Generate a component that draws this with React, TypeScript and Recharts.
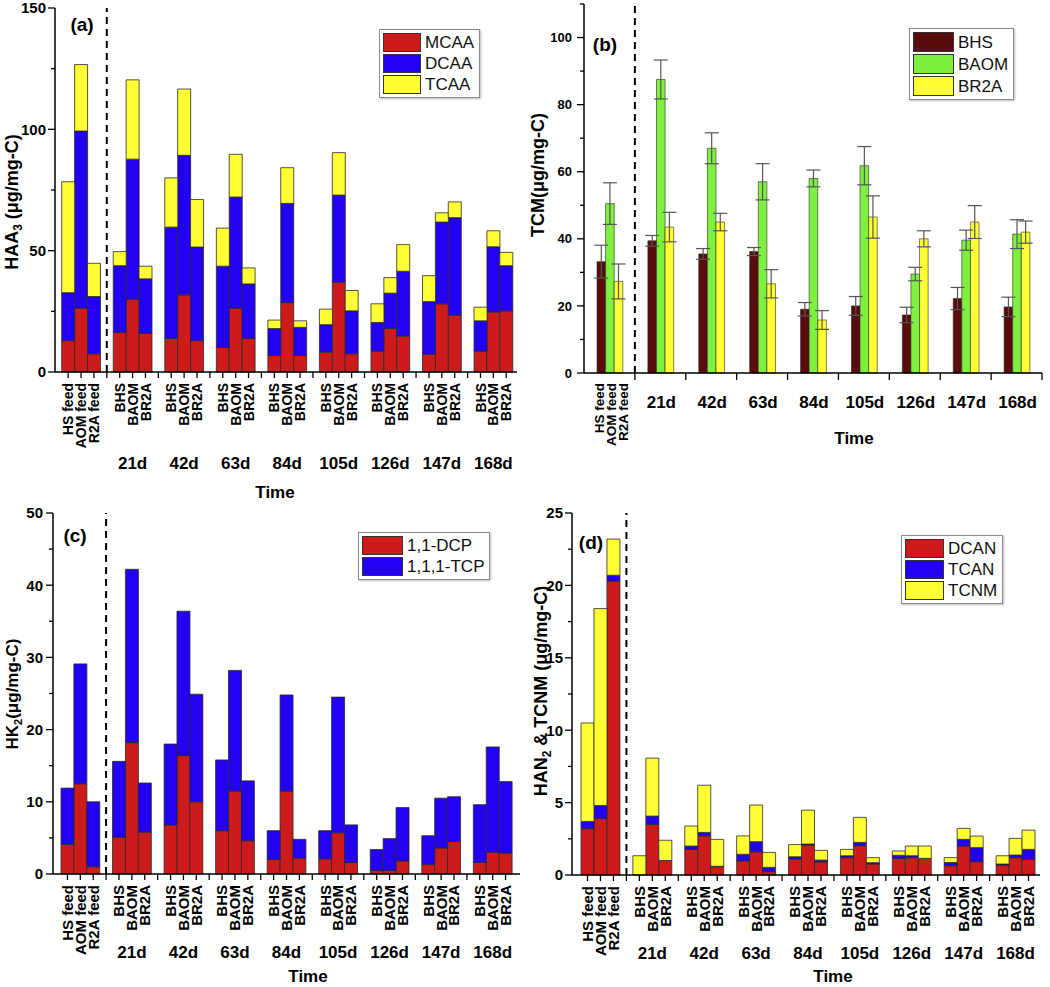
import React from 'react';
import { BarChart, Bar, XAxis, YAxis, ReferenceLine, ErrorBar } from 'recharts';

const FONT = '"Liberation Sans", Arial, Helvetica, sans-serif';

// ---------- shared categories ----------
const feedLabels = ['HS feed', 'AOM feed', 'R2A feed'];
const reactorLabels = ['BHS', 'BAOM', 'BR2A'];
const dayLabels = ['21d', '42d', '63d', '84d', '105d', '126d', '147d', '168d'];

// ---------- (a) HAA3 (feeds, then BHS/BAOM/BR2A for each day) ----------
const mcaa = [12.9, 26.3, 7.5, 16.3, 30.0, 15.9, 13.8, 31.8, 12.9, 10.1, 26.3, 13.8, 6.8, 28.6, 6.8, 8.2, 37.0, 7.5, 8.6, 17.9, 14.8, 7.3, 28.1, 23.4, 8.6, 24.7, 25.2];
const dcaa = [19.8, 73.0, 23.6, 27.5, 57.7, 22.5, 45.9, 57.5, 38.6, 33.5, 45.8, 22.5, 11.1, 40.9, 11.6, 11.3, 35.9, 17.7, 11.8, 14.6, 26.7, 21.7, 33.7, 40.2, 12.5, 26.9, 18.6];
const tcaa = [45.7, 27.4, 13.7, 5.8, 32.7, 5.2, 20.3, 27.3, 19.6, 15.7, 17.6, 6.6, 3.5, 14.7, 2.7, 6.4, 17.5, 8.4, 7.7, 6.4, 11.0, 10.7, 3.8, 6.5, 5.6, 6.6, 5.5];

// ---------- (b) TCM (feed group, then days) ----------
const tcmGroups = ['feed', ...dayLabels];
const tcmBHS = [33.2, 39.4, 35.5, 36.2, 19.0, 20.0, 17.3, 22.2, 19.7];
const tcmBHSErr = [4.9, 1.6, 1.6, 1.2, 2.0, 2.8, 2.3, 3.3, 2.9];
const tcmBAOM = [50.5, 87.5, 67.0, 57.0, 58.0, 61.8, 29.5, 39.6, 41.4];
const tcmBAOMErr = [6.2, 5.8, 4.6, 5.4, 2.5, 5.7, 2.0, 3.0, 4.3];
const tcmBR2A = [27.3, 43.5, 45.0, 26.6, 15.8, 46.5, 40.0, 45.0, 42.0];
const tcmBR2AErr = [5.2, 4.4, 2.6, 4.2, 2.8, 6.3, 2.4, 4.9, 3.3];

// ---------- (c) HK2 ----------
const dcp = [4.1, 12.5, 1.0, 5.1, 18.2, 5.8, 6.8, 16.4, 10.0, 6.0, 11.5, 4.6, 2.0, 11.5, 2.2, 2.1, 5.7, 1.6, 0.5, 0.5, 1.8, 1.3, 3.6, 4.5, 1.6, 3.0, 2.9];
const tcp = [7.8, 16.6, 9.0, 10.5, 24.0, 6.8, 11.2, 20.0, 14.9, 9.8, 16.7, 8.3, 4.0, 13.3, 2.6, 3.9, 18.8, 5.2, 2.9, 4.4, 7.4, 4.0, 6.9, 6.2, 8.0, 14.6, 9.9];

// ---------- (d) HAN2 & TCNM ----------
const dcan = [3.2, 3.9, 20.3, 0, 3.5, 1.0, 1.77, 2.7, 0.57, 0.97, 1.6, 0.23, 1.1, 2.07, 0.9, 1.2, 2.02, 0.76, 1.15, 1.2, 1.15, 0.64, 2.0, 0.92, 0.69, 1.2, 1.08];
const tcan = [0.5, 0.9, 0.4, 0, 0.57, 0, 0.23, 0.24, 0.03, 0.46, 0.7, 0.3, 0.16, 0.07, 0.13, 0.13, 0.23, 0.09, 0.21, 0.13, 0, 0.23, 0.46, 0.97, 0.07, 0.18, 0.69];
const tcnm = [6.8, 13.6, 2.5, 1.33, 4.0, 1.4, 1.38, 3.26, 1.86, 1.27, 2.53, 1.03, 0.84, 2.34, 0.67, 0.44, 1.73, 0.35, 0.3, 0.67, 0.85, 0.33, 0.76, 0.8, 0.57, 1.15, 1.33];

// ---------- tick values ----------
const haaTicks = [0, 25, 50, 75, 100, 125, 150];
const tcmTicks = [0, 10, 20, 30, 40, 50, 60, 70, 80, 90, 100, 110];
const hkTicks = [0, 5, 10, 15, 20, 25, 30, 35, 40, 45, 50];
const hanTicks = [0, 2.5, 5, 7.5, 10, 12.5, 15, 17.5, 20, 22.5, 25];

// ---------- colours ----------
const RED = '#CD1B1B';
const BLUE = '#2200F2';
const YELLOW = '#FFFF33';
const MAROON = '#5A0B0B';
const GREEN = '#7EF03E';
const EDGE = '#2a2a2a';

type Row = { key: string; label: string; group?: string; [k: string]: any };

function buildSlotRows(series: Record<string, number[]>): Row[] {
  const rows: Row[] = [];
  const names = Object.keys(series);
  feedLabels.forEach((lab, i) => {
    const r: Row = { key: `feed${i}`, label: lab };
    names.forEach((n) => (r[n] = series[n][i]));
    rows.push(r);
  });
  dayLabels.forEach((day, d) => {
    rows.push({ key: `gap${d}`, label: '' });
    reactorLabels.forEach((lab, j) => {
      const idx = 3 + d * 3 + j;
      const r: Row = { key: `${day}-${lab}`, label: lab, group: j === 1 ? day : undefined };
      names.forEach((n) => (r[n] = series[n][idx]));
      rows.push(r);
    });
  });
  return rows;
}

const haaRows = buildSlotRows({ mcaa, dcaa, tcaa });
const hkRows = buildSlotRows({ dcp, tcp });
const hanRows = buildSlotRows({ dcan, tcan, tcnm });
const tcmRows = tcmGroups.map((g, i) => ({
  key: g,
  bhs: tcmBHS[i],
  bhsErr: tcmBHSErr[i],
  baom: tcmBAOM[i],
  baomErr: tcmBAOMErr[i],
  br2a: tcmBR2A[i],
  br2aErr: tcmBR2AErr[i],
}));

const makeSlotTick = (rows: Row[], groupDy: number, fontSize: number) => (props: any) => {
  const { x, y, payload } = props;
  const row = rows.find((r) => r.key === payload.value);
  if (!row) return <g />;
  return (
    <g>
      {row.label ? (
        <text
          transform={`translate(${x},${y + 3}) rotate(-90)`}
          textAnchor="end"
          dy="0.36em"
          fontSize={fontSize}
          fontWeight="bold"
          fill="#000"
        >
          {row.label}
        </text>
      ) : null}
      {row.group ? (
        <text x={x} y={y + groupDy} textAnchor="middle" fontSize={17} fontWeight="bold" fill="#000">
          {row.group}
        </text>
      ) : null}
    </g>
  );
};

const makeYTick = (major: number, fontSize: number, gap: number) => (props: any) => {
  const { x, y, payload } = props;
  const axisX = x + 8;
  const v = payload.value;
  const isMajor = Math.abs(v / major - Math.round(v / major)) < 1e-6;
  return (
    <g>
      <line x1={axisX} x2={axisX - (isMajor ? 7 : 4)} y1={y} y2={y} stroke="#000" strokeWidth={1.3} />
      {isMajor ? (
        <text x={axisX - gap} y={y} dy="0.36em" textAnchor="end" fontSize={fontSize} fontWeight="bold" fill="#000">
          {v}
        </text>
      ) : null}
    </g>
  );
};

const TcmTick = (props: any) => {
  const { x, y, payload } = props;
  const half = typeof payload.offset === 'number' && payload.offset > 0 ? payload.offset : 25.5;
  const axisY = y - 8;
  const isFeed = payload.value === 'feed';
  return (
    <g>
      <line x1={x + half} x2={x + half} y1={axisY} y2={axisY + 7} stroke="#000" strokeWidth={1.3} />
      {isFeed
        ? feedLabels.map((lab, j) => (
            <text
              key={lab}
              transform={`translate(${x + 1.5 + (j - 1) * 12},${y + 2}) rotate(-90)`}
              textAnchor="end"
              dy="0.36em"
              fontSize={13.5}
              fontWeight="bold"
              fill="#000"
            >
              {lab}
            </text>
          ))
        : (
          <text x={x + 1} y={y + 27} textAnchor="middle" fontSize={17} fontWeight="bold" fill="#000">
            {payload.value}
          </text>
        )}
    </g>
  );
};

const AXIS = { stroke: '#000', strokeWidth: 1.5 };

function LegendBox({ left, top, items, swatchW, rowH }: { left: number; top: number; items: { name: string; color: string }[]; swatchW: number; rowH: number }) {
  return (
    <div
      style={{
        position: 'absolute',
        left,
        top,
        border: '1px solid #8a8a8a',
        boxShadow: '1px 1px 2px #bbb',
        background: '#fff',
        padding: '2px 5px 2px 3px',
      }}
    >
      {items.map((it) => (
        <div key={it.name} style={{ display: 'flex', alignItems: 'center', height: rowH }}>
          <div style={{ width: swatchW, height: rowH - 2, background: it.color, border: '1px solid #333', boxSizing: 'border-box' }} />
          <span style={{ marginLeft: 4, fontSize: 17, lineHeight: 1, color: '#111' }}>{it.name}</span>
        </div>
      ))}
    </div>
  );
}

export default function App() {
  return (
    <div style={{ position: 'absolute', left: 0, top: 0, width: 1050, height: 987, background: '#fff', fontFamily: FONT, overflow: 'hidden' }}>
      {/* (a) */}
      <div style={{ position: 'absolute', left: 0, top: 0 }}>
        <BarChart width={525} height={500} data={haaRows} margin={{ top: 8, right: 8, left: 0, bottom: 0 }} barCategoryGap={0} barGap={0}>
          <XAxis dataKey="key" interval={0} height={128} tick={makeSlotTick(haaRows, 89, 14)} tickLine={{ stroke: '#000', strokeWidth: 1.3 }} tickSize={6} tickMargin={2} axisLine={AXIS} padding={{ left: 6.7, right: 4.3 }} />
          <XAxis xAxisId="top" orientation="top" dataKey="key" height={0} tick={false} tickLine={false} axisLine={AXIS} />
          <YAxis width={55} domain={[0, 150]} ticks={haaTicks} interval={0} tickLine={false} tickSize={6} tickMargin={2} tick={makeYTick(50, 15, 9)} axisLine={AXIS} />
          <YAxis yAxisId="right" orientation="right" width={0} domain={[0, 1]} tick={false} tickLine={false} axisLine={AXIS} />
          <ReferenceLine x="gap0" stroke="#000" strokeWidth={2} strokeDasharray="7 5" />
          <Bar dataKey="mcaa" stackId="s" fill={RED} stroke={EDGE} strokeWidth={0.8} isAnimationActive={false} />
          <Bar dataKey="dcaa" stackId="s" fill={BLUE} stroke={EDGE} strokeWidth={0.8} isAnimationActive={false} />
          <Bar dataKey="tcaa" stackId="s" fill={YELLOW} stroke={EDGE} strokeWidth={0.8} isAnimationActive={false} />
        </BarChart>
      </div>

      {/* (b) */}
      <div style={{ position: 'absolute', left: 520, top: 0 }}>
        <BarChart width={530} height={480} data={tcmRows} margin={{ top: 4, right: 8, left: 0, bottom: 0 }} barGap={0} barSize={8.6}>
          <XAxis dataKey="key" interval={0} height={107} tick={TcmTick} tickLine={false} tickSize={6} tickMargin={2} axisLine={AXIS} />
          <XAxis xAxisId="top" orientation="top" dataKey="key" height={0} tick={false} tickLine={false} axisLine={AXIS} />
          <YAxis width={64} domain={[0, 110]} ticks={tcmTicks} interval={0} tickLine={false} tickSize={6} tickMargin={2} tick={makeYTick(20, 13, 12)} axisLine={AXIS} />
          <YAxis yAxisId="right" orientation="right" width={0} domain={[0, 1]} tick={false} tickLine={false} axisLine={AXIS} />
          <ReferenceLine x="feed" position="end" stroke="#000" strokeWidth={2} strokeDasharray="7 5" />
          <Bar dataKey="bhs" fill={MAROON} stroke={EDGE} strokeWidth={0.6} isAnimationActive={false}>
            <ErrorBar dataKey="bhsErr" width={7} stroke="#555" strokeWidth={1.2} direction="y" />
          </Bar>
          <Bar dataKey="baom" fill={GREEN} stroke={EDGE} strokeWidth={0.6} isAnimationActive={false}>
            <ErrorBar dataKey="baomErr" width={7} stroke="#555" strokeWidth={1.2} direction="y" />
          </Bar>
          <Bar dataKey="br2a" fill={YELLOW} stroke={EDGE} strokeWidth={0.6} isAnimationActive={false}>
            <ErrorBar dataKey="br2aErr" width={7} stroke="#555" strokeWidth={1.2} direction="y" />
          </Bar>
        </BarChart>
      </div>

      {/* (c) */}
      <div style={{ position: 'absolute', left: 0, top: 490 }}>
        <BarChart width={530} height={497} data={hkRows} margin={{ top: 23, right: 10, left: 0, bottom: 0 }} barCategoryGap={0} barGap={0}>
          <XAxis dataKey="key" interval={0} height={113} tick={makeSlotTick(hkRows, 76, 15)} tickLine={{ stroke: '#000', strokeWidth: 1.3 }} tickSize={6} tickMargin={2} axisLine={AXIS} padding={{ left: 8, right: 8 }} />
          <XAxis xAxisId="top" orientation="top" dataKey="key" height={0} tick={false} tickLine={false} axisLine={AXIS} />
          <YAxis width={53} domain={[0, 50]} ticks={hkTicks} interval={0} tickLine={false} tickSize={6} tickMargin={2} tick={makeYTick(10, 15, 10)} axisLine={AXIS} />
          <YAxis yAxisId="right" orientation="right" width={0} domain={[0, 1]} tick={false} tickLine={false} axisLine={AXIS} />
          <ReferenceLine x="gap0" stroke="#000" strokeWidth={2} strokeDasharray="7 5" />
          <Bar dataKey="dcp" stackId="s" fill={RED} stroke={EDGE} strokeWidth={0.8} isAnimationActive={false} />
          <Bar dataKey="tcp" stackId="s" fill={BLUE} stroke={EDGE} strokeWidth={0.8} isAnimationActive={false} />
        </BarChart>
      </div>

      {/* (d) */}
      <div style={{ position: 'absolute', left: 525, top: 490 }}>
        <BarChart width={525} height={497} data={hanRows} margin={{ top: 23, right: 10, left: 0, bottom: 0 }} barCategoryGap={0} barGap={0}>
          <XAxis dataKey="key" interval={0} height={112} tick={makeSlotTick(hanRows, 76, 15)} tickLine={{ stroke: '#000', strokeWidth: 1.3 }} tickSize={6} tickMargin={2} axisLine={AXIS} padding={{ left: 9, right: 5 }} />
          <XAxis xAxisId="top" orientation="top" dataKey="key" height={0} tick={false} tickLine={false} axisLine={AXIS} />
          <YAxis width={47} domain={[0, 25]} ticks={hanTicks} interval={0} tickLine={false} tickSize={6} tickMargin={2} tick={makeYTick(5, 15, 9)} axisLine={AXIS} />
          <YAxis yAxisId="right" orientation="right" width={0} domain={[0, 1]} tick={false} tickLine={false} axisLine={AXIS} />
          <ReferenceLine x="gap0" stroke="#000" strokeWidth={2} strokeDasharray="7 5" />
          <Bar dataKey="dcan" stackId="s" fill={RED} stroke={EDGE} strokeWidth={0.8} isAnimationActive={false} />
          <Bar dataKey="tcan" stackId="s" fill={BLUE} stroke={EDGE} strokeWidth={0.8} isAnimationActive={false} />
          <Bar dataKey="tcnm" stackId="s" fill={YELLOW} stroke={EDGE} strokeWidth={0.8} isAnimationActive={false} />
        </BarChart>
      </div>

      {/* titles & labels */}
      <svg width={1050} height={987} style={{ position: 'absolute', left: 0, top: 0, pointerEvents: 'none' }}>
        <g fontWeight="bold" fill="#000" fontFamily={FONT}>
          <text x={82} y={31} textAnchor="middle" fontSize={19}>(a)</text>
          <text x={605} y={51} textAnchor="middle" fontSize={19}>(b)</text>
          <text x={75} y={542} textAnchor="middle" fontSize={19}>(c)</text>
          <text x={591} y={549} textAnchor="middle" fontSize={19}>(d)</text>

          <text x={275} y={498} textAnchor="middle" fontSize={17}>Time</text>
          <text x={854} y={444} textAnchor="middle" fontSize={17}>Time</text>
          <text x={308} y={982} textAnchor="middle" fontSize={17}>Time</text>
          <text x={833} y={982} textAnchor="middle" fontSize={17}>Time</text>

          <text transform="translate(18,202) rotate(-90)" textAnchor="middle" fontSize={18}>
            HAA<tspan dy={4} fontSize={12}>3</tspan><tspan dy={-4}> (μg/mg-C)</tspan>
          </text>
          <text transform="translate(544,175) rotate(-90)" textAnchor="middle" fontSize={18}>TCM(μg/mg-C)</text>
          <text transform="translate(18,694) rotate(-90)" textAnchor="middle" fontSize={17}>
            HK<tspan dy={4} fontSize={11}>2</tspan><tspan dy={-4}>(μg/mg-C)</tspan>
          </text>
          <text transform="translate(547,691) rotate(-90)" textAnchor="middle" fontSize={18}>
            HAN<tspan dy={4} fontSize={12}>2</tspan><tspan dy={-4}> &amp; TCNM (μg/mg-C)</tspan>
          </text>
        </g>
      </svg>

      <LegendBox left={379} top={29} swatchW={38} rowH={21} items={[{ name: 'MCAA', color: RED }, { name: 'DCAA', color: BLUE }, { name: 'TCAA', color: YELLOW }]} />
      <LegendBox left={909} top={28} swatchW={41} rowH={22} items={[{ name: 'BHS', color: MAROON }, { name: 'BAOM', color: GREEN }, { name: 'BR2A', color: YELLOW }]} />
      <LegendBox left={358} top={532} swatchW={41} rowH={21} items={[{ name: '1,1-DCP', color: RED }, { name: '1,1,1-TCP', color: BLUE }]} />
      <LegendBox left={901} top={535} swatchW={39} rowH={21} items={[{ name: 'DCAN', color: RED }, { name: 'TCAN', color: BLUE }, { name: 'TCNM', color: YELLOW }]} />
    </div>
  );
}
